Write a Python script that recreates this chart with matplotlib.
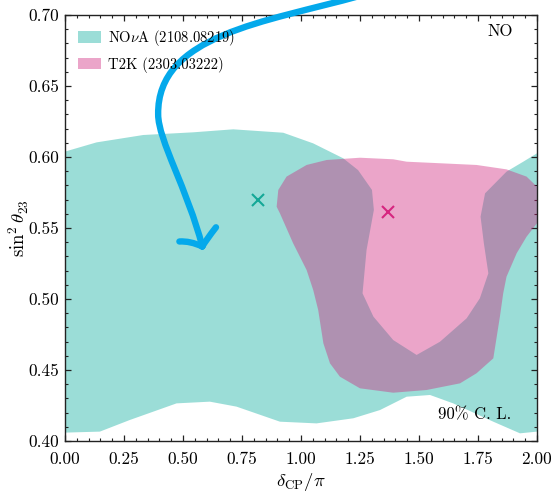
import matplotlib
matplotlib.use("Agg")
import matplotlib.pyplot as plt
from matplotlib.patches import Patch, PathPatch
from matplotlib.path import Path
from matplotlib.ticker import MultipleLocator, FormatStrFormatter

plt.rcParams.update({
    "font.family": "serif",
    "font.serif": ["cmr10"],
    "mathtext.fontset": "cm",
    "axes.formatter.use_mathtext": True,
})

# NOvA 90% C.L. region (2108.08219), boundary in (delta_CP/pi, sin^2 theta23)
nova_x = [0.0, 0.134, 0.332, 0.544, 0.713, 0.925, 1.052, 1.179, 1.242, 1.301, 1.309,
          1.278, 1.261, 1.307, 1.391, 1.490, 1.589, 1.702, 1.758, 1.794, 1.775, 1.761,
          1.780, 1.871, 1.942, 2.0,
          2.0, 1.928, 1.815, 1.645, 1.547, 1.448, 1.335, 1.222, 1.066, 0.911, 0.727,
          0.614, 0.473, 0.275, 0.148, 0.0]
nova_y = [0.6038, 0.6103, 0.6155, 0.6174, 0.6195, 0.6171, 0.6096, 0.5991, 0.5908, 0.5768, 0.5627,
          0.5345, 0.5040, 0.4876, 0.4711, 0.4606, 0.4699, 0.4864, 0.5005, 0.5181, 0.5392, 0.5580,
          0.5744, 0.5897, 0.5967, 0.6026,
          0.4066, 0.4054, 0.4136, 0.4265, 0.4324, 0.4312, 0.4218, 0.4160, 0.4124, 0.4136, 0.4242,
          0.4277, 0.4265, 0.4148, 0.4066, 0.4059]

# T2K 90% C.L. region (2303.03222)
t2k_x = [0.897, 0.904, 0.939, 1.024, 1.109, 1.250, 1.391, 1.448, 1.603, 1.744, 1.871, 1.956,
         2.0, 2.0, 1.956, 1.914, 1.871, 1.857, 1.843, 1.815, 1.744, 1.674, 1.532, 1.391,
         1.250, 1.165, 1.123, 1.095, 1.073, 1.052, 1.024, 0.967, 0.911]
t2k_y = [0.5650, 0.5768, 0.5862, 0.5944, 0.5979, 0.5995, 0.5984, 0.5967, 0.5955, 0.5944, 0.5913, 0.5862,
         0.5791, 0.5533, 0.5439, 0.5322, 0.5157, 0.5040, 0.4876, 0.4582, 0.4477, 0.4406, 0.4359, 0.4340,
         0.4371, 0.4453, 0.4547, 0.4688, 0.4923, 0.5063, 0.5204, 0.5392, 0.5603]

# best-fit points
bf_nova = (0.82, 0.570)
bf_t2k = (1.37, 0.561)

labels = ["NO$\\nu$A (2108.08219)", "T2K (2303.03222)"]
c_nova = "#05AC9D"
c_t2k = "#CF207A"

xticks = [0.0, 0.25, 0.5, 0.75, 1.0, 1.25, 1.5, 1.75, 2.0]
yticks = [0.40, 0.45, 0.50, 0.55, 0.60, 0.65, 0.70]

fig = plt.figure(figsize=(5.55, 4.94), dpi=100)
ax = fig.add_axes([0.117, 0.1073, 0.8505, 0.8623])

ax.fill(nova_x, nova_y, color=c_nova, alpha=0.4, lw=0, zorder=1)
ax.fill(t2k_x, t2k_y, color=c_t2k, alpha=0.4, lw=0, zorder=2)

ax.plot(*bf_nova, marker="x", color="#14A897", ms=9, mew=1.5, ls="none", zorder=3)
ax.plot(*bf_t2k, marker="x", color="#D6257F", ms=9, mew=1.5, ls="none", zorder=3)

ax.set_xlim(0, 2)
ax.set_ylim(0.40, 0.70)
ax.set_xticks(xticks)
ax.set_yticks(yticks)
ax.xaxis.set_major_formatter(FormatStrFormatter("%.2f"))
ax.yaxis.set_major_formatter(FormatStrFormatter("%.2f"))
ax.xaxis.set_minor_locator(MultipleLocator(0.05))
ax.yaxis.set_minor_locator(MultipleLocator(0.01))
ax.tick_params(which="both", direction="in", top=True, right=True, labelsize=12.5, color="#222222")
ax.tick_params(which="major", length=4.5, width=0.9)
ax.tick_params(which="minor", length=2.5, width=0.8)
ax.tick_params(axis="x", which="major", pad=8)
ax.tick_params(axis="y", which="major", pad=4)
for s in ax.spines.values():
    s.set_linewidth(1.0)
    s.set_color("#222222")

ax.set_xlabel("$\\delta_{\\rm CP}/\\pi$", fontsize=13.5, va="center")
ax.xaxis.set_label_coords(0.5, -(482 - 441) / 426)
ax.set_ylabel("$\\sin^2\\theta_{23}$", fontsize=13.5, va="center")
ax.yaxis.set_label_coords(-(65 - 19) / 472, 0.5)

handles = [Patch(facecolor=c_nova, alpha=0.4, lw=0), Patch(facecolor=c_t2k, alpha=0.4, lw=0)]
ax.legend(handles, labels, loc="upper left", frameon=False, fontsize=10.5,
          handlelength=1.6, handleheight=0.8, handletextpad=0.45, labelspacing=0.6)

ax.text(0.9216, 0.9624, "NO", transform=ax.transAxes, fontsize=12, ha="center", va="center")
ax.text(0.8676, 0.061, "90% C. L.", transform=ax.transAxes, fontsize=12, ha="center", va="center")

# hand-drawn blue arrow annotation
arrow_verts = [(1.25, 0.7135), (0.85, 0.695), (0.39, 0.686), (0.395, 0.630),
               (0.395, 0.612), (0.52, 0.577), (0.582, 0.537)]
arrow_codes = [Path.MOVETO, Path.CURVE4, Path.CURVE4, Path.CURVE4,
               Path.CURVE4, Path.CURVE4, Path.CURVE4]
arrow_kw = dict(facecolor="none", edgecolor="#04A9EB", lw=4.6, capstyle="round",
                joinstyle="round", clip_on=False, zorder=5)
ax.add_patch(PathPatch(Path(arrow_verts, arrow_codes), **arrow_kw))
head_verts = [(0.485, 0.5405), (0.53, 0.541), (0.582, 0.537), (0.582, 0.537),
              (0.600, 0.542), (0.640, 0.5505)]
head_codes = [Path.MOVETO, Path.CURVE3, Path.CURVE3, Path.MOVETO, Path.CURVE3, Path.CURVE3]
ax.add_patch(PathPatch(Path(head_verts, head_codes), **arrow_kw))

fig.savefig("out.png", dpi=100)
